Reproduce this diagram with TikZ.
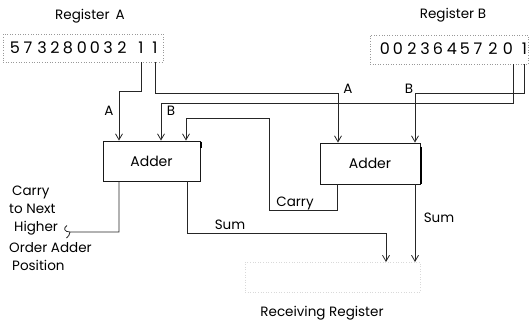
\documentclass[tikz,border=0pt]{standalone}
\usepackage{fontspec}
\setmainfont{Poppins}
\usetikzlibrary{arrows.meta}
\begin{document}
\begin{tikzpicture}[x=1pt,y=-1pt,
  wire/.style={line width=0.8pt, draw=black!85},
  arr/.style={wire,-{Straight Barb[length=6pt,width=7pt,line width=0.8pt]}},
  adderbox/.style={draw=black!90, line width=0.9pt, inner sep=0pt, font=\fontsize{14}{16}\selectfont},
  regbox/.style={draw=black!40, dotted, line width=0.6pt, inner sep=0pt},
  digit/.style={font=\fontsize{16}{18}\selectfont, inner sep=0pt},
  lbl/.style={font=\fontsize{13.5}{15}\selectfont, inner sep=0pt},
]
\useasboundingbox (0,0) rectangle (529,321);

% registers
\node[regbox, minimum width=160pt, minimum height=28pt] (rega) at (83,48) {};
\node[regbox, minimum width=158pt, minimum height=29pt] (regb) at (449,49.5) {};
\foreach \d/\x [count=\i] in {5/15,7/28,3/42,2/55,8/68,0/82,0/95,3/108,2/122,1/141,1/155}
  \node[digit] (a\i) at (\x,48) {\d};
\foreach \d/\x [count=\i] in {0/385,0/398,2/412,3/425,6/438,4/452,5/465,7/478,2/493,0/508,1/524.5}
  \node[digit] (b\i) at (\x,49) {\d};
\node[lbl] (regAl) at (90,16) {Register\hspace{0.45em}A};
\node[lbl] (regBl) at (453,15) {Register B};

% adders
\node[adderbox, minimum width=97pt, minimum height=40pt] (ladd) at (151.5,161) {Adder};
\node[adderbox, minimum width=100pt, minimum height=41pt] (radd) at (370,163.5) {Adder};
\draw[line width=1.8pt] ([xshift=0.5pt,yshift=-1pt]ladd.north east) -- ++(0,-6pt);
\draw[line width=1.8pt] ([xshift=0.5pt,yshift=-4pt]radd.north east) -- ([xshift=0.5pt]radd.south east);

% receiving register (faint)
\node[draw=black!15, dotted, line width=0.6pt, inner sep=0pt, minimum width=175pt, minimum height=30pt] (recv) at (332.5,277) {};
\node[lbl] (recvl) at (322,313) {Receiving Register};

% named points
\coordinate (lA) at ([xshift=-32.5pt]ladd.north);
\coordinate (lB) at ([xshift=9.5pt]ladd.north);
\coordinate (lC) at ([xshift=34.5pt]ladd.north);
\coordinate (rA) at ([xshift=-32pt]radd.north);
\coordinate (rB) at ([xshift=45pt]radd.north);
\coordinate (lCo) at ([xshift=-32.5pt]ladd.south);
\coordinate (lS) at ([xshift=35.5pt]ladd.south);
\coordinate (rCo) at ([xshift=-33pt]radd.south);
\coordinate (rS) at ([xshift=45pt]radd.south);
\coordinate (h1) at (0,91);
\coordinate (h2) at (0,93);
\coordinate (h3) at (0,103);
\coordinate (cl) at (269,210);
\coordinate (ct) at (269,118);
\coordinate (cy) at (70,232);
\coordinate (sy) at (0,233);
\coordinate (sx) at (386,262);

% wires
\draw[arr] (a10 |- rega.south) -- (a10 |- h1) -- (lA |- h1) -- (lA);
\draw[arr] (a11 |- rega.south) -- (a11 |- h2) -- (rA |- h2) -- (rA);
\draw[arr] (b10.east |- regb.south) -- (b10.east |- h3) -- (lB |- h3) -- (lB);
\draw[arr] (b11 |- regb.south) -- (b11 |- h2) -- (rB |- h2) -- (rB);
\draw[arr] (rCo) -- (rCo |- cl) -- (cl) -- (ct) -- (lC |- ct) -- (lC);
\draw[wire] (lCo) -- (lCo |- cy) -- (cy) .. controls (64,232) and (63,228) .. (67,225.5);
\draw[wire] (cy) .. controls (70,235) and (68,236.5) .. (66.5,238);
\draw[arr] (lS) -- (lS |- sy) -- (sx |- sy) -- (sx);
\draw[arr] (rS) -- (rS |- sx);

% labels
\node[lbl] (labA1) at (109,111) {A};
\node[lbl] (labB1) at (171,111) {B};
\node[lbl] (labA2) at (348,89) {A};
\node[lbl] (labB2) at (409,89) {B};
\node[lbl] (carryl) at (295,203) {Carry};
\node[lbl] (sum1) at (230,225) {Sum};
\node[lbl] (sum2) at (439,218) {Sum};

\node[lbl, anchor=base west] (t1) at (12,195) {Carry};
\node[lbl, anchor=base west] (t2) at (9,213) {to Next};
\node[lbl, anchor=base west] (t3) at (14,231) {Higher};
\node[lbl, anchor=base west] (t4) at (9,252) {Order Adder};
\node[lbl, anchor=base west] (t5) at (12,270) {Position};
\end{tikzpicture}
\end{document}
